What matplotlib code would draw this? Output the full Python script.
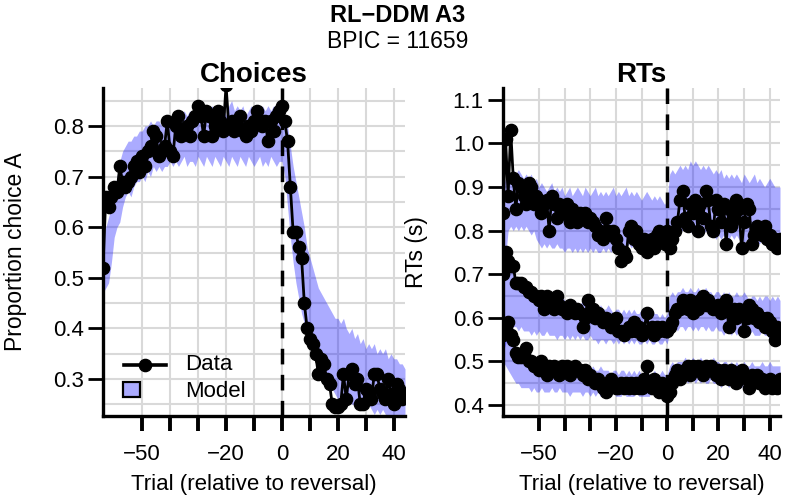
import numpy as np
import matplotlib
matplotlib.use('Agg')
import matplotlib.pyplot as plt
from matplotlib.patches import Rectangle

plt.rcParams['font.family'] = ['Liberation Sans', 'DejaVu Sans']

# ---------------- data ----------------
trials = list(range(-64, 45))

choice_data = [
    0.52, 0.66, 0.64, 0.66, 0.68, 0.67, 0.72, 0.69, 0.68, 0.69,
    0.70, 0.72, 0.73, 0.71, 0.74, 0.72, 0.75, 0.76, 0.79, 0.78,
    0.74, 0.75, 0.76, 0.81, 0.75, 0.74, 0.80, 0.82, 0.78, 0.79,
    0.80, 0.78, 0.81, 0.82, 0.84, 0.82, 0.78, 0.83, 0.82, 0.78,
    0.80, 0.83, 0.81, 0.79, 0.88, 0.80, 0.81, 0.79, 0.80, 0.82,
    0.79, 0.78, 0.80, 0.79, 0.81, 0.83, 0.81, 0.80, 0.81, 0.77,
    0.81, 0.79, 0.82, 0.83, 0.84, 0.81, 0.77, 0.68, 0.59, 0.59,
    0.56, 0.54, 0.45, 0.40, 0.38, 0.37, 0.35, 0.31, 0.34, 0.33,
    0.30, 0.29, 0.25, 0.245, 0.245, 0.25, 0.31, 0.26, 0.31, 0.32,
    0.29, 0.30, 0.25, 0.25, 0.28, 0.27, 0.26, 0.31, 0.31, 0.28,
    0.27, 0.26, 0.30, 0.27, 0.25, 0.29, 0.28, 0.26, 0.27,
]
choice_model_hi = [
    0.58, 0.60, 0.62, 0.64, 0.67, 0.70, 0.73, 0.75, 0.76, 0.77,
    0.77, 0.78, 0.78, 0.79, 0.79, 0.80, 0.80, 0.81, 0.80, 0.81,
    0.81, 0.80, 0.81, 0.82, 0.81, 0.82, 0.82, 0.83, 0.82, 0.83,
    0.82, 0.83, 0.82, 0.84, 0.83, 0.84, 0.82, 0.84, 0.83, 0.84,
    0.83, 0.84, 0.83, 0.84, 0.82, 0.84, 0.85, 0.83, 0.84, 0.83,
    0.84, 0.82, 0.83, 0.84, 0.82, 0.84, 0.83, 0.84, 0.83, 0.84,
    0.83, 0.84, 0.83, 0.84, 0.83, 0.82, 0.80, 0.76, 0.72, 0.69,
    0.66, 0.63, 0.60, 0.56, 0.54, 0.52, 0.50, 0.48, 0.47, 0.46,
    0.45, 0.44, 0.43, 0.42, 0.42, 0.41, 0.42, 0.40, 0.39, 0.40,
    0.38, 0.39, 0.37, 0.38, 0.36, 0.37, 0.36, 0.37, 0.35, 0.36,
    0.35, 0.36, 0.34, 0.35, 0.34, 0.34, 0.33, 0.33, 0.32,
]
choice_model_lo = [
    0.47, 0.48, 0.49, 0.53, 0.58, 0.60, 0.61, 0.64, 0.66, 0.67,
    0.66, 0.68, 0.69, 0.69, 0.70, 0.69, 0.71, 0.70, 0.72, 0.71,
    0.72, 0.71, 0.72, 0.72, 0.73, 0.72, 0.73, 0.72, 0.73, 0.74,
    0.72, 0.73, 0.73, 0.72, 0.74, 0.73, 0.72, 0.74, 0.73, 0.72,
    0.74, 0.73, 0.72, 0.74, 0.73, 0.72, 0.74, 0.73, 0.72, 0.74,
    0.73, 0.72, 0.74, 0.73, 0.72, 0.73, 0.74, 0.72, 0.73, 0.72,
    0.74, 0.73, 0.72, 0.73, 0.73, 0.70, 0.64, 0.58, 0.53, 0.49,
    0.46, 0.43, 0.41, 0.39, 0.37, 0.35, 0.34, 0.32, 0.31, 0.30,
    0.29, 0.28, 0.28, 0.27, 0.26, 0.27, 0.26, 0.25, 0.26, 0.25,
    0.25, 0.24, 0.25, 0.24, 0.24, 0.25, 0.24, 0.23, 0.24, 0.23,
    0.24, 0.23, 0.22, 0.23, 0.22, 0.23, 0.22, 0.22, 0.23,
]

rt_slow = [
    0.84, 1.01, 0.88, 1.03, 0.92, 0.85, 0.91, 0.90, 0.88, 0.86,
    0.91, 0.90, 0.86, 0.88, 0.87, 0.84, 0.86, 0.87, 0.80, 0.88,
    0.86, 0.83, 0.86, 0.85, 0.84, 0.86, 0.82, 0.85, 0.84, 0.82,
    0.84, 0.83, 0.84, 0.82, 0.83, 0.82, 0.81, 0.79, 0.80, 0.78,
    0.83, 0.80, 0.79, 0.80, 0.78, 0.76, 0.73, 0.75, 0.74, 0.80,
    0.81, 0.78, 0.80, 0.77, 0.76, 0.78, 0.75, 0.77, 0.78, 0.76,
    0.79, 0.80, 0.78, 0.77, 0.80, 0.76, 0.78, 0.80, 0.82, 0.87,
    0.89, 0.83, 0.81, 0.86, 0.84, 0.87, 0.80, 0.86, 0.83, 0.89,
    0.87, 0.81, 0.80, 0.87, 0.85, 0.82, 0.86, 0.77, 0.85, 0.81,
    0.83, 0.87, 0.85, 0.76, 0.82, 0.86, 0.85, 0.77, 0.79, 0.81,
    0.80, 0.79, 0.81, 0.78, 0.79, 0.77, 0.78, 0.76, 0.78,
]
rt_mid = [
    0.70, 0.75, 0.73, 0.72, 0.72, 0.68, 0.68, 0.68, 0.67, 0.67,
    0.66, 0.66, 0.65, 0.65, 0.64, 0.65, 0.62, 0.65, 0.63, 0.64,
    0.62, 0.65, 0.63, 0.62, 0.62, 0.61, 0.63, 0.62, 0.61, 0.62,
    0.61, 0.58, 0.60, 0.64, 0.61, 0.62, 0.60, 0.61, 0.60, 0.59,
    0.60, 0.59, 0.58, 0.59, 0.60, 0.57, 0.57, 0.56, 0.57, 0.58,
    0.57, 0.59, 0.57, 0.58, 0.56, 0.57, 0.61, 0.57, 0.58, 0.56,
    0.58, 0.57, 0.58, 0.57, 0.57, 0.58, 0.59, 0.61, 0.62, 0.62,
    0.64, 0.63, 0.62, 0.64, 0.61, 0.63, 0.62, 0.64, 0.65, 0.63,
    0.64, 0.63, 0.62, 0.62, 0.63, 0.61, 0.62, 0.64, 0.58, 0.61,
    0.62, 0.60, 0.62, 0.61, 0.57, 0.60, 0.63, 0.62, 0.60, 0.61,
    0.59, 0.60, 0.58, 0.60, 0.59, 0.57, 0.55, 0.58, 0.57,
]
rt_fast = [
    0.56, 0.58, 0.59, 0.56, 0.55, 0.52, 0.51, 0.51, 0.52, 0.53,
    0.50, 0.50, 0.49, 0.49, 0.48, 0.50, 0.48, 0.47, 0.49, 0.48,
    0.49, 0.48, 0.47, 0.49, 0.48, 0.49, 0.47, 0.48, 0.49, 0.48,
    0.48, 0.47, 0.48, 0.46, 0.47, 0.46, 0.45, 0.46, 0.45, 0.44,
    0.43, 0.45, 0.46, 0.45, 0.44, 0.44, 0.45, 0.44, 0.45, 0.44,
    0.45, 0.44, 0.45, 0.44, 0.44, 0.46, 0.49, 0.45, 0.44, 0.46,
    0.45, 0.43, 0.45, 0.44, 0.42, 0.43, 0.45, 0.47, 0.48, 0.46,
    0.47, 0.48, 0.49, 0.47, 0.49, 0.48, 0.49, 0.48, 0.47, 0.49,
    0.48, 0.49, 0.48, 0.47, 0.48, 0.46, 0.48, 0.47, 0.46, 0.48,
    0.47, 0.45, 0.47, 0.48, 0.47, 0.46, 0.44, 0.47, 0.46, 0.47,
    0.45, 0.46, 0.44, 0.45, 0.46, 0.44, 0.45, 0.44, 0.46,
]

rt_slow_hi = [
    0.90, 0.92, 0.93, 0.93, 0.94, 0.93, 0.94, 0.93, 0.92, 0.93,
    0.92, 0.93, 0.91, 0.92, 0.90, 0.91, 0.90, 0.89, 0.90, 0.91,
    0.89, 0.90, 0.89, 0.90, 0.88, 0.89, 0.90, 0.88, 0.89, 0.90,
    0.89, 0.88, 0.90, 0.89, 0.88, 0.89, 0.90, 0.88, 0.89, 0.88,
    0.89, 0.88, 0.89, 0.90, 0.88, 0.89, 0.88, 0.89, 0.90, 0.88,
    0.89, 0.88, 0.89, 0.88, 0.87, 0.88, 0.89, 0.88, 0.87, 0.88,
    0.87, 0.88, 0.87, 0.86, 0.87, 0.93, 0.94, 0.93, 0.94, 0.95,
    0.94, 0.95, 0.94, 0.96, 0.95, 0.96, 0.95, 0.94, 0.95, 0.94,
    0.95, 0.94, 0.93, 0.94, 0.93, 0.94, 0.92, 0.93, 0.92, 0.93,
    0.92, 0.93, 0.92, 0.91, 0.93, 0.92, 0.91, 0.92, 0.93, 0.91,
    0.92, 0.91, 0.90, 0.91, 0.92, 0.91, 0.90, 0.90, 0.90,
]
rt_slow_lo = [
    0.72, 0.74, 0.80, 0.81, 0.80, 0.81, 0.80, 0.81, 0.80, 0.81,
    0.80, 0.79, 0.80, 0.78, 0.77, 0.76, 0.77, 0.76, 0.77, 0.76,
    0.76, 0.77, 0.76, 0.76, 0.75, 0.76, 0.76, 0.75, 0.76, 0.75,
    0.76, 0.75, 0.76, 0.75, 0.76, 0.75, 0.76, 0.75, 0.75, 0.76,
    0.75, 0.76, 0.75, 0.76, 0.75, 0.76, 0.75, 0.76, 0.76, 0.77,
    0.76, 0.77, 0.76, 0.77, 0.76, 0.77, 0.77, 0.76, 0.77, 0.77,
    0.76, 0.77, 0.77, 0.76, 0.77, 0.80, 0.81, 0.80, 0.81, 0.80,
    0.80, 0.81, 0.80, 0.80, 0.79, 0.80, 0.79, 0.80, 0.79, 0.80,
    0.79, 0.80, 0.79, 0.78, 0.79, 0.78, 0.79, 0.78, 0.78, 0.79,
    0.78, 0.79, 0.78, 0.78, 0.77, 0.78, 0.78, 0.77, 0.78, 0.77,
    0.77, 0.78, 0.77, 0.77, 0.76, 0.77, 0.77, 0.76, 0.76,
]
rt_mid_hi = [
    0.75, 0.74, 0.72, 0.71, 0.70, 0.69, 0.69, 0.68, 0.68, 0.67,
    0.67, 0.66, 0.67, 0.66, 0.66, 0.65, 0.66, 0.65, 0.65, 0.64,
    0.65, 0.64, 0.64, 0.65, 0.64, 0.63, 0.64, 0.63, 0.64, 0.63,
    0.63, 0.64, 0.63, 0.62, 0.63, 0.62, 0.63, 0.62, 0.63, 0.62,
    0.62, 0.63, 0.62, 0.61, 0.62, 0.62, 0.61, 0.62, 0.61, 0.62,
    0.61, 0.62, 0.61, 0.61, 0.62, 0.61, 0.60, 0.61, 0.62, 0.61,
    0.61, 0.60, 0.61, 0.60, 0.61, 0.65, 0.66, 0.65, 0.66, 0.66,
    0.67, 0.66, 0.66, 0.67, 0.66, 0.66, 0.67, 0.66, 0.66, 0.67,
    0.66, 0.66, 0.65, 0.66, 0.66, 0.65, 0.66, 0.65, 0.66, 0.65,
    0.65, 0.66, 0.65, 0.65, 0.66, 0.65, 0.64, 0.65, 0.65, 0.64,
    0.65, 0.64, 0.65, 0.65, 0.64, 0.65, 0.64, 0.65, 0.64,
]
rt_mid_lo = [
    0.52, 0.54, 0.56, 0.57, 0.58, 0.58, 0.57, 0.58, 0.57, 0.57,
    0.57, 0.56, 0.57, 0.56, 0.57, 0.56, 0.56, 0.57, 0.56, 0.56,
    0.56, 0.55, 0.56, 0.56, 0.55, 0.56, 0.55, 0.56, 0.55, 0.56,
    0.55, 0.56, 0.55, 0.55, 0.56, 0.55, 0.55, 0.54, 0.55, 0.55,
    0.54, 0.55, 0.55, 0.54, 0.55, 0.54, 0.55, 0.54, 0.55, 0.54,
    0.55, 0.54, 0.55, 0.54, 0.54, 0.55, 0.54, 0.55, 0.54, 0.54,
    0.55, 0.54, 0.54, 0.55, 0.54, 0.57, 0.57, 0.58, 0.57, 0.58,
    0.58, 0.57, 0.58, 0.58, 0.57, 0.58, 0.57, 0.58, 0.58, 0.57,
    0.58, 0.57, 0.57, 0.58, 0.57, 0.57, 0.56, 0.57, 0.57, 0.56,
    0.57, 0.56, 0.57, 0.56, 0.57, 0.56, 0.56, 0.57, 0.56, 0.56,
    0.56, 0.57, 0.56, 0.56, 0.55, 0.56, 0.56, 0.55, 0.56,
]
rt_fast_hi = [
    0.60, 0.58, 0.56, 0.55, 0.54, 0.53, 0.53, 0.52, 0.52, 0.51,
    0.51, 0.51, 0.50, 0.50, 0.50, 0.50, 0.49, 0.50, 0.49, 0.49,
    0.49, 0.50, 0.49, 0.49, 0.49, 0.48, 0.49, 0.49, 0.48, 0.49,
    0.49, 0.48, 0.49, 0.48, 0.48, 0.49, 0.48, 0.48, 0.49, 0.48,
    0.48, 0.48, 0.47, 0.48, 0.48, 0.47, 0.48, 0.48, 0.47, 0.48,
    0.47, 0.48, 0.47, 0.48, 0.47, 0.47, 0.48, 0.47, 0.47, 0.48,
    0.47, 0.47, 0.48, 0.47, 0.47, 0.49, 0.50, 0.49, 0.50, 0.50,
    0.50, 0.51, 0.50, 0.50, 0.51, 0.50, 0.50, 0.51, 0.50, 0.50,
    0.50, 0.50, 0.51, 0.50, 0.50, 0.49, 0.50, 0.50, 0.49, 0.50,
    0.49, 0.50, 0.49, 0.49, 0.50, 0.49, 0.49, 0.50, 0.49, 0.49,
    0.49, 0.50, 0.49, 0.49, 0.50, 0.49, 0.49, 0.49, 0.49,
]
rt_fast_lo = [
    0.50, 0.49, 0.48, 0.47, 0.46, 0.45, 0.45, 0.44, 0.44, 0.44,
    0.44, 0.43, 0.44, 0.43, 0.43, 0.44, 0.43, 0.43, 0.43, 0.44,
    0.43, 0.43, 0.44, 0.43, 0.43, 0.43, 0.42, 0.43, 0.43, 0.43,
    0.43, 0.42, 0.43, 0.43, 0.42, 0.43, 0.42, 0.43, 0.42, 0.42,
    0.43, 0.42, 0.42, 0.43, 0.42, 0.42, 0.42, 0.43, 0.42, 0.42,
    0.42, 0.42, 0.43, 0.42, 0.42, 0.42, 0.42, 0.42, 0.43, 0.42,
    0.42, 0.42, 0.42, 0.42, 0.42, 0.44, 0.45, 0.45, 0.45, 0.46,
    0.45, 0.46, 0.45, 0.46, 0.46, 0.45, 0.46, 0.45, 0.46, 0.45,
    0.45, 0.46, 0.45, 0.45, 0.45, 0.44, 0.45, 0.45, 0.44, 0.45,
    0.44, 0.45, 0.44, 0.44, 0.45, 0.44, 0.44, 0.44, 0.44, 0.44,
    0.44, 0.44, 0.43, 0.44, 0.44, 0.43, 0.44, 0.44, 0.43,
]

x_tick_values = [-50, -40, -30, -20, -10, 0, 10, 20, 30, 40]
x_tick_labels = ['\u221250', '', '', '\u221220', '', '0', '', '20', '', '40']

main_title = 'RL\u2212DDM A3'
sub_title = 'BPIC = 11659'
legend_labels = ['Data', 'Model']

# ---------------- styling ----------------
BAND = (0.0, 0.0, 1.0, 0.33)
GRID = '#d9d9d9'
W, H = 795, 498
TICK_FS = 16
LABEL_FS = 16

fig = plt.figure(figsize=(W / 100, H / 100), dpi=100)
axL = fig.add_axes([103 / W, 1 - 416 / H, 302 / W, 328 / H])
axR = fig.add_axes([503 / W, 1 - 416 / H, 277 / W, 328 / H])


def style_axis(ax, ylim, yticks, ygrid, ylabels):
    ax.set_xlim(-64, 44)
    ax.set_ylim(*ylim)
    ax.set_xticks(x_tick_values)
    ax.set_xticklabels(x_tick_labels)
    ax.set_yticks(yticks)
    ax.set_yticklabels(ylabels)
    ax.set_yticks(ygrid, minor=True)
    ax.tick_params(axis='y', which='major', direction='out', length=10.8,
                   width=2.0, labelsize=TICK_FS, pad=3, color='black')
    ax.tick_params(axis='x', which='major', direction='out', length=10.8,
                   width=2.8, labelsize=TICK_FS, pad=9, color='black')
    ax.tick_params(axis='both', which='minor', length=0)
    for s in ('top', 'right'):
        ax.spines[s].set_visible(False)
    for s in ('left', 'bottom'):
        ax.spines[s].set_linewidth(2.4)
    ax.set_axisbelow(True)
    ax.grid(True, axis='x', which='major', color=GRID, linewidth=1.5)
    ax.grid(True, axis='y', which='both', color=GRID, linewidth=1.5)
    ax.axvline(0, color='black', linestyle=(0, (4.5, 3)), linewidth=2.5, zorder=3)
    ax.set_xlabel('Trial (relative to reversal)', fontsize=LABEL_FS, labelpad=7)


MS = 8.8
LW = 2.0

# Left: choices
axL.fill_between(trials, choice_model_lo, choice_model_hi, color=BAND,
                 linewidth=0, zorder=2)
axL.plot(trials, choice_data, color='black', linewidth=LW, marker='o',
         markersize=MS, zorder=4)
style_axis(axL, (0.227, 0.875), [0.3, 0.4, 0.5, 0.6, 0.7, 0.8],
           [0.25, 0.35, 0.45, 0.55, 0.65, 0.75, 0.85],
           ['0.3', '0.4', '0.5', '0.6', '0.7', '0.8'])
axL.set_ylabel('Proportion choice A', fontsize=16.5, labelpad=19)
axL.set_title('Choices', fontsize=20, fontweight='bold', pad=1)

# legend drawn in axes coordinates
axL.plot([0.0695, 0.2086], [0.1555, 0.1555], transform=axL.transAxes,
         color='black', linewidth=2.6, zorder=6, clip_on=False)
axL.plot([0.139], [0.1555], transform=axL.transAxes, color='black',
         marker='o', markersize=MS, zorder=6, clip_on=False)
axL.add_patch(Rectangle((0.066, 0.058), 0.056, 0.045, transform=axL.transAxes,
                        facecolor=BAND, edgecolor='black', linewidth=1.6,
                        zorder=6, clip_on=False))
axL.text(0.271, 0.1555, legend_labels[0], transform=axL.transAxes,
         fontsize=16, va='center', ha='left', zorder=6)
axL.text(0.271, 0.075, legend_labels[1], transform=axL.transAxes,
         fontsize=16, va='center', ha='left', zorder=6)

# Right: RTs
for lo, hi in ((rt_slow_lo, rt_slow_hi), (rt_mid_lo, rt_mid_hi),
               (rt_fast_lo, rt_fast_hi)):
    axR.fill_between(trials, lo, hi, color=BAND, linewidth=0, zorder=2)
for series in (rt_slow, rt_mid, rt_fast):
    axR.plot(trials, series, color='black', linewidth=LW, marker='o',
             markersize=MS, zorder=4)
style_axis(axR, (0.375, 1.127), [0.4, 0.5, 0.6, 0.7, 0.8, 0.9, 1.0, 1.1],
           [0.45, 0.55, 0.65, 0.75, 0.85, 0.95, 1.05],
           ['0.4', '0.5', '0.6', '0.7', '0.8', '0.9', '1.0', '1.1'])
axR.set_ylabel('RTs (s)', fontsize=16.5, labelpad=18)
axR.set_title('RTs', fontsize=20, fontweight='bold', pad=1)

fig.text(0.5, 1 - 15 / H, main_title, ha='center', va='center',
         fontsize=17, fontweight='bold')
fig.text(0.5, 1 - 42 / H, sub_title, ha='center', va='center', fontsize=16.5)

fig.savefig('out.png', dpi=100)
